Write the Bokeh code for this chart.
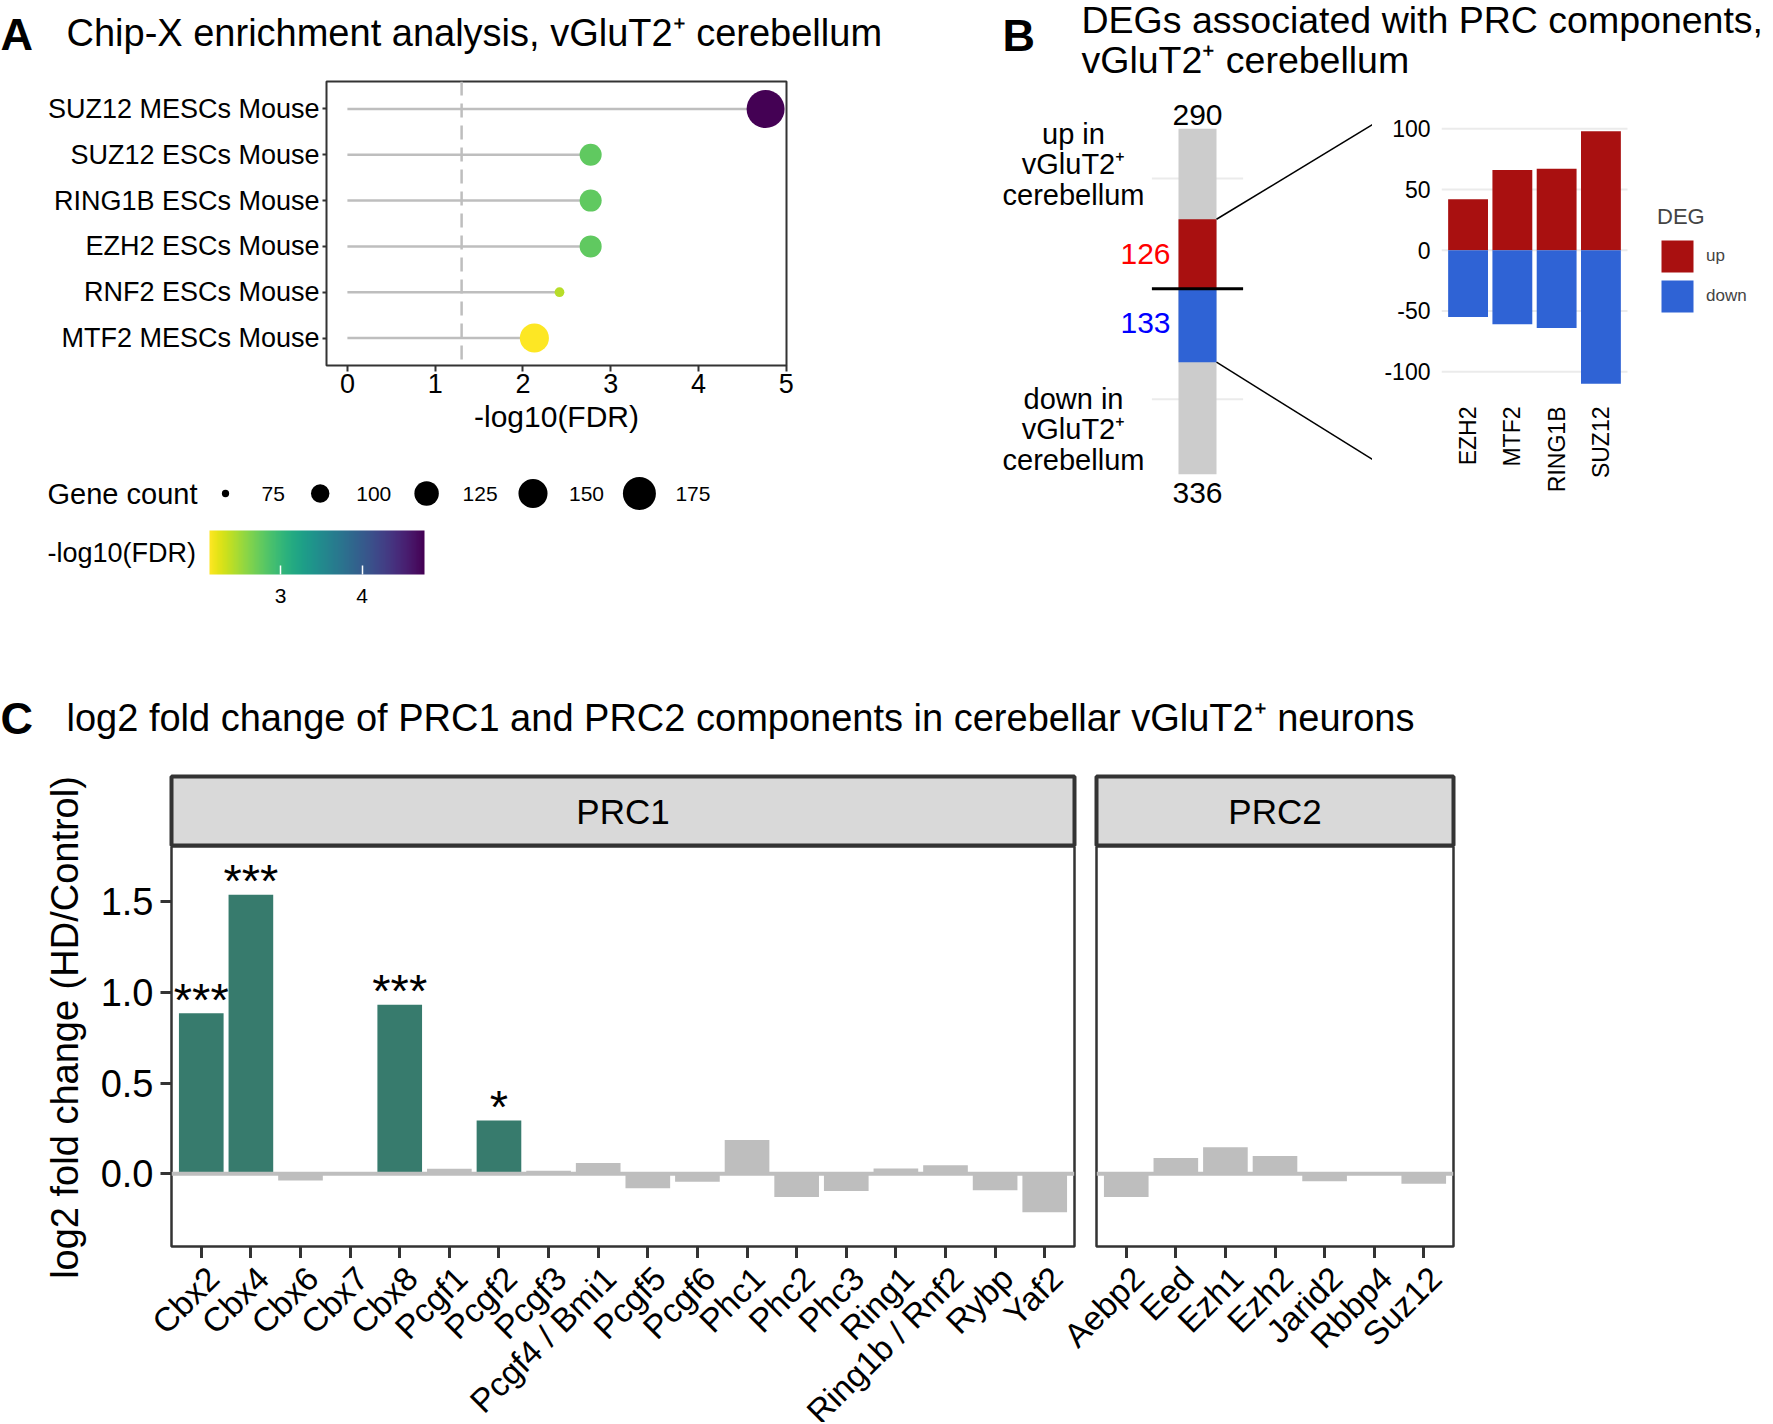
import math
from bokeh.plotting import figure
from bokeh.layouts import row, column
from bokeh.models import (Range1d, FixedTicker, Span, ColorBar, Legend, LegendItem,
                          PrintfTickFormatter, ColumnDataSource, LinearColorMapper,
                          CustomLabelingPolicy)
from bokeh.palettes import Viridis256
from bokeh.transform import transform
from bokeh.core.properties import value
from bokeh.embed import file_html
from bokeh.resources import INLINE

FONT = "Liberation Sans"

# ---------------- data: panel A (Chip-X enrichment) ----------------
chip_terms = ["SUZ12 MESCs Mouse", "SUZ12 ESCs Mouse", "RING1B ESCs Mouse",
              "EZH2 ESCs Mouse", "RNF2 ESCs Mouse", "MTF2 MESCs Mouse"]
chip_neglog10_fdr = [4.764, 2.771, 2.771, 2.771, 2.416, 2.13]
chip_gene_count = [212, 114, 114, 114, 78, 150]
fdr_cutoff = 0.05
chip_x_ticks = [0, 1, 2, 3, 4, 5]
size_breaks = [75, 100, 125, 150, 175]
fdr_ticks = [3, 4]

# ---------------- data: panel B (DEGs) ----------------
deg_up_total = 290
deg_down_total = 336
deg_up_prc = 126
deg_down_prc = 133
deg_axis_breaks = [200, -200]
prc_tf = ["EZH2", "MTF2", "RING1B", "SUZ12"]
prc_tf_up = [42, 66, 67, 98]
prc_tf_down = [55, 61, 64, 110]
deg_y_ticks = [-100, -50, 0, 50, 100]

# ---------------- data: panel C (log2 fold change) ----------------
prc1_genes = ["Cbx2", "Cbx4", "Cbx6", "Cbx7", "Cbx8", "Pcgf1", "Pcgf2", "Pcgf3",
              "Pcgf4 / Bmi1", "Pcgf5", "Pcgf6", "Phc1", "Phc2", "Phc3", "Ring1",
              "Ring1b / Rnf2", "Rybp", "Yaf2"]
prc1_lfc = [0.885, 1.537, -0.037, -0.005, 0.931, 0.028, 0.294, 0.017, 0.06, -0.079,
            -0.043, 0.186, -0.128, -0.095, 0.03, 0.047, -0.09, -0.212]
prc1_sig = ["***", "***", "", "", "***", "", "*", "", "", "", "", "", "", "", "", "", "", ""]
prc2_genes = ["Aebp2", "Eed", "Ezh1", "Ezh2", "Jarid2", "Rbbp4", "Suz12"]
prc2_lfc = [-0.128, 0.087, 0.147, 0.098, -0.04, -0.005, -0.054]
prc2_sig = ["", "", "", "", "", "", ""]
lfc_ticks = [0.0, 0.5, 1.0, 1.5]
lfc_limits = (-0.40, 1.803)

# ---------------- styling constants ----------------
SIG_COLOR = "#377B6D"
NS_COLOR = "#BEBEBE"
UP_COLOR = "#A91010"
DOWN_COLOR = "#2F63D5"
FRAME_COLOR = "#333333"
GRID_COLOR = "#EBEBEB"
SUP = "\u207a"
PAGE_W = 1770


def fig(**kw):
    base = dict(toolbar_location=None, output_backend="svg", title=None, frame_align=False)
    base.update(kw)
    return figure(**base)


def blank(x0, x1, y_top, y_bottom):
    """Canvas whose data units are page pixels (y grows downward)."""
    p = fig(width=int(x1 - x0), height=int(y_bottom - y_top), x_range=Range1d(x0, x1),
            y_range=Range1d(y_bottom, y_top), x_axis_location=None, y_axis_location=None,
            min_border=0)
    p.grid.visible = False
    p.outline_line_color = None
    return p


def txt(p, x, y, s, size, align="left", baseline="middle", color="black", style="normal", **kw):
    p.text(x=x, y=y, text=s, text_font=value(FONT), text_font_size=value(size),
           text_align=align, text_baseline=baseline, text_color=color,
           text_font_style=style, **kw)


def style_axis(ax, size, tick_out, standoff, tick_w=2):
    ax.axis_line_color = None
    ax.major_tick_in = 0
    ax.major_tick_out = tick_out
    ax.major_tick_line_color = FRAME_COLOR
    ax.major_tick_line_width = tick_w
    ax.minor_tick_line_color = None
    ax.major_label_text_font = FONT
    ax.major_label_text_font_size = size
    ax.major_label_text_color = "black"
    ax.major_label_standoff = standoff
    ax.axis_label_text_font = FONT
    ax.axis_label_text_font_style = "normal"
    ax.axis_label_text_color = "black"


# ======================= PANEL A =======================
hdrA = blank(0, 990, 0, 70)
txt(hdrA, [0], [34], ["A"], "45px", style="bold")
txt(hdrA, [66], [32], ["Chip-X enrichment analysis, vGluT2" + SUP + " cerebellum"], "38px")

n_terms = len(chip_terms)
ypos = [n_terms - i for i in range(n_terms)]
xmax = max(chip_neglog10_fdr)
figA = fig(width=990, height=378, x_range=Range1d(-0.05 * xmax, 1.05 * xmax),
           y_range=Range1d(0.4, n_terms + 0.6), min_border_left=326, min_border_right=204,
           min_border_top=11, min_border_bottom=83)
figA.grid.visible = False
figA.outline_line_color = FRAME_COLOR
figA.outline_line_width = 2


def size_of(count):
    # area-like size scale fitted to the legend
    return 3.1 + 2.96 * math.sqrt(max(count - 73, 0))


mapper = LinearColorMapper(palette=list(reversed(Viridis256)),
                           low=min(chip_neglog10_fdr), high=max(chip_neglog10_fdr))
srcA = ColumnDataSource(dict(y=ypos, fdr=chip_neglog10_fdr,
                             size=[size_of(c) for c in chip_gene_count],
                             zero=[0] * n_terms))
figA.segment(x0="zero", y0="y", x1="fdr", y1="y", source=srcA, line_color=NS_COLOR, line_width=2.5)
figA.add_layout(Span(location=-math.log10(fdr_cutoff), dimension="height", line_color=NS_COLOR,
                     line_width=2.5, line_dash="14 8"))
figA.scatter(x="fdr", y="y", size="size", source=srcA, fill_color=transform("fdr", mapper),
             line_color=None)

figA.xaxis.ticker = FixedTicker(ticks=chip_x_ticks)
figA.yaxis.ticker = FixedTicker(ticks=ypos)
figA.yaxis.major_label_overrides = {y: t for y, t in zip(ypos, chip_terms)}
style_axis(figA.xaxis[0], "27px", 6, 2)
style_axis(figA.yaxis[0], "27px", 4, 3)
figA.xaxis.axis_label = "-log10(FDR)"
figA.xaxis.axis_label_text_font_size = "30px"
figA.xaxis.axis_label_standoff = 4

# legends of panel A
legA = blank(0, 990, 448, 608)
txt(legA, [47], [493], ["Gene count"], "29px")
lx = [225.0]
for lab in [str(b) for b in size_breaks][:-1]:
    lx.append(lx[-1] + 71.3 + 11.7 * len(lab))
legA.scatter(x=lx, y=[493] * len(size_breaks), size=[size_of(b) for b in size_breaks],
             fill_color="black", line_color=None)
txt(legA, [x + 36 for x in lx], [493] * len(size_breaks), [str(b) for b in size_breaks], "21px")
txt(legA, [47], [552], ["-log10(FDR)"], "27px")
CB_LEFT, CB_TOP, CB_W, CB_H = 209, 530, 215, 44
cb = ColorBar(color_mapper=mapper, orientation="horizontal", width=CB_W, height=CB_H,
              location=(CB_LEFT, 3), ticker=FixedTicker(ticks=fdr_ticks),
              major_label_text_font=FONT, major_label_text_font_size="21px",
              major_label_text_color="black",
              major_tick_line_color="white", major_tick_line_width=1.5,
              major_tick_in=9, major_tick_out=0, minor_tick_line_color=None,
              label_standoff=14, bar_line_color=None, padding=0,
              background_fill_alpha=0, border_line_color=None, title=None)
legA.add_layout(cb, "center")
cb_px = [CB_LEFT + (t - mapper.low) / (mapper.high - mapper.low) * CB_W for t in fdr_ticks]
legA.segment(x0=cb_px, x1=cb_px, y0=[CB_TOP] * len(cb_px), y1=[CB_TOP + 9] * len(cb_px),
             line_color="white", line_width=1.5)

colA = column(hdrA, figA, legA)

# ======================= PANEL B =======================
hdrB = blank(990, PAGE_W, 0, 90)
txt(hdrB, [1002], [35], ["B"], "45px", style="bold")
txt(hdrB, [1081], [19], ["DEGs associated with PRC components,"], "37.5px")
txt(hdrB, [1081], [59], ["vGluT2" + SUP + " cerebellum"], "37.5px")

BL_X0, BL_X1, BL_Y0, BL_Y1 = 990, 1372, 90, 608
BL_BAR_CX, BL_PX_X = 1197, 76.0
BL_ZERO_Y, BL_PX_Y = 288.3, 0.552
figBL = fig(width=BL_X1 - BL_X0, height=BL_Y1 - BL_Y0,
            x_range=Range1d(1 - (BL_BAR_CX - BL_X0) / BL_PX_X, 1 + (BL_X1 - BL_BAR_CX) / BL_PX_X),
            y_range=Range1d(-(BL_Y1 - BL_ZERO_Y) / BL_PX_Y, (BL_ZERO_Y - BL_Y0) / BL_PX_Y),
            x_axis_location=None, y_axis_location=None, min_border=0)
figBL.grid.visible = False
figBL.outline_line_color = None
n_b = len(deg_axis_breaks)
figBL.segment(x0=[0.4] * n_b, x1=[1.6] * n_b, y0=deg_axis_breaks, y1=deg_axis_breaks,
              line_color=GRID_COLOR, line_width=2)
figBL.vbar(x=[1, 1], bottom=[0, -deg_down_total], top=[deg_up_total, 0], width=0.5,
           fill_color="#CCCCCC", line_color=None)
figBL.vbar(x=[1], bottom=[0], top=[deg_up_prc], width=0.5, fill_color=UP_COLOR, line_color=None)
figBL.vbar(x=[1], bottom=[-deg_down_prc], top=[0], width=0.5, fill_color=DOWN_COLOR, line_color=None)
figBL.segment(x0=[0.4], x1=[1.6], y0=[0], y1=[0], line_color="black", line_width=3)
xr_end = figBL.x_range.end
figBL.segment(x0=[1.25, 1.25], y0=[deg_up_prc, -deg_down_prc], x1=[xr_end, xr_end],
              y1=[(BL_ZERO_Y - 124) / BL_PX_Y, (BL_ZERO_Y - 459) / BL_PX_Y],
              line_color="black", line_width=1.5)
txt(figBL, [1], [deg_up_total], [str(deg_up_total)], "30px", align="center",
    baseline="alphabetic", y_offset=-14)
txt(figBL, [1], [-deg_down_total], [str(deg_down_total)], "30px", align="center",
    baseline="alphabetic", y_offset=19)
txt(figBL, [0.75], [deg_up_prc / 2], [str(deg_up_prc)], "30px", align="right",
    color="#FF0000", x_offset=-8)
txt(figBL, [0.75], [-deg_down_prc / 2], [str(deg_down_prc)], "30px", align="right",
    color="#0000FF", x_offset=-8, y_offset=-3)
figBL.text(x=[1, 1], y=deg_axis_breaks,
           text=["up in\nvGluT2" + SUP + "\ncerebellum", "down in\nvGluT2" + SUP + "\ncerebellum"],
           x_offset=-124, y_offset=[-14, 30], text_font=value(FONT), text_font_size=value("29px"),
           text_align="center", text_baseline="middle", text_line_height=0.95, text_color="black")

# right part of B: stacked up/down bars per PRC component
ylo = -max(prc_tf_down)
yhi = max(prc_tf_up)
pad = 0.05 * (yhi - ylo)
tf_x = list(range(1, len(prc_tf) + 1))
BR_FRAME_L, BR_PANEL_W = 1441, 186
BR_UNIT = BR_PANEL_W / (len(prc_tf) + 0.2)
BR_W = PAGE_W - BL_X1
figBR = fig(width=BR_W, height=518,
            x_range=Range1d(0.4, 0.4 + (PAGE_W - BR_FRAME_L) / BR_UNIT),
            y_range=Range1d(ylo - pad, yhi + pad), min_border_left=BR_FRAME_L - BL_X1,
            min_border_right=0, min_border_top=28, min_border_bottom=212)
figBR.outline_line_color = None
figBR.grid.visible = False
n_g = len(deg_y_ticks)
figBR.segment(x0=[0.4] * n_g, x1=[len(prc_tf) + 0.6] * n_g, y0=deg_y_ticks, y1=deg_y_ticks,
              line_color=GRID_COLOR, line_width=2)
r_up = figBR.vbar(x=tf_x, bottom=0, top=prc_tf_up, width=0.9, fill_color=UP_COLOR, line_color=None)
r_dn = figBR.vbar(x=tf_x, bottom=[-v for v in prc_tf_down], top=0, width=0.9,
                  fill_color=DOWN_COLOR, line_color=None)
figBR.yaxis.ticker = FixedTicker(ticks=deg_y_ticks)
figBR.yaxis.formatter = PrintfTickFormatter(format="%d")
figBR.xaxis.ticker = FixedTicker(ticks=tf_x)
figBR.xaxis.major_label_overrides = {x: t for x, t in zip(tf_x, prc_tf)}
figBR.xaxis.major_label_orientation = math.pi / 2
style_axis(figBR.xaxis[0], "23px", 0, 10)
style_axis(figBR.yaxis[0], "23px", 0, 11)
legB = Legend(items=[LegendItem(label="up", renderers=[r_up]),
                     LegendItem(label="down", renderers=[r_dn])],
              title="DEG", location=(216, 80), orientation="vertical",
              glyph_width=40, glyph_height=40, spacing=-5, padding=0, margin=0,
              label_standoff=9, title_standoff=6, border_line_color=None,
              background_fill_alpha=0, title_text_font=FONT, title_text_font_size="22px",
              title_text_font_style="normal", label_text_font=FONT, label_text_font_size="17px")
figBR.add_layout(legB, "center")

colB = column(hdrB, row(figBL, figBR))

# ======================= PANEL C =======================
hdrC = blank(0, PAGE_W, 608, 772)
txt(hdrC, [0], [718], ["C"], "45px", style="bold")
txt(hdrC, [66], [717], ["log2 fold change of PRC1 and PRC2 components in cerebellar vGluT2" + SUP + " neurons"], "38px")

YT_W = 90
ytit = blank(0, YT_W, 772, 1422)
ytit.text(x=[64], y=[1027], text=["log2 fold change (HD/Control)"], angle=math.pi / 2,
          text_font=value(FONT), text_font_size=value("38px"), text_align="center",
          text_baseline="middle", text_color="black")

UNIT = 903 / 18.2
P1_LEFT, P2_LEFT = 171, 1096
P1_W = round(len(prc1_genes) * UNIT + 0.2 * UNIT)
P2_W = round(len(prc2_genes) * UNIT + 0.2 * UNIT)
C1_X0, C1_X1, C2_X1 = YT_W, 1085, PAGE_W


def strip(x0, x1, left, width, label):
    s = fig(width=x1 - x0, height=74, x_range=Range1d(0, 1), y_range=Range1d(0, 1),
            x_axis_location=None, y_axis_location=None, min_border_left=left - x0,
            min_border_right=x1 - left - width, min_border_top=4, min_border_bottom=0)
    s.grid.visible = False
    s.background_fill_color = "#D9D9D9"
    s.outline_line_color = FRAME_COLOR
    s.outline_line_width = 4
    txt(s, [0.5], [0.5], [label], "35px", align="center")
    return s


def facet(x0, x1, left, width, genes, lfc, sig, show_y):
    n = len(genes)
    xs = list(range(1, n + 1))
    p = fig(width=x1 - x0, height=412, x_range=Range1d(0.4, n + 0.6),
            y_range=Range1d(*lfc_limits), min_border_left=left - x0,
            min_border_right=x1 - left - width, min_border_top=0, min_border_bottom=12,
            y_axis_location="left" if show_y else None)
    p.grid.visible = False
    p.outline_line_color = FRAME_COLOR
    p.outline_line_width = 2.5
    colors = [SIG_COLOR if s else NS_COLOR for s in sig]
    p.vbar(x=xs, bottom=0, top=lfc, width=0.9, fill_color=colors, line_color=None)
    p.add_layout(Span(location=0, dimension="width", line_color=NS_COLOR, line_width=4))
    sx = [x for x, s in zip(xs, sig) if s]
    sy = [v for v, s in zip(lfc, sig) if s]
    st = [s for s in sig if s]
    if st:
        txt(p, sx, sy, st, "47px", align="center", baseline="alphabetic", y_offset=-14)
    p.xaxis.ticker = FixedTicker(ticks=xs)
    style_axis(p.xaxis[0], "0px", 12, 0, tick_w=3)
    p.xaxis.major_label_policy = CustomLabelingPolicy(code="return []")
    if show_y:
        p.yaxis.ticker = FixedTicker(ticks=lfc_ticks)
        p.yaxis.formatter = PrintfTickFormatter(format="%.1f")
        style_axis(p.yaxis[0], "38px", 11, 7, tick_w=3)
    return p


strip1 = strip(C1_X0, C1_X1, P1_LEFT, P1_W, "PRC1")
strip2 = strip(C1_X1, C2_X1, P2_LEFT, P2_W, "PRC2")
panel1 = facet(C1_X0, C1_X1, P1_LEFT, P1_W, prc1_genes, prc1_lfc, prc1_sig, True)
panel2 = facet(C1_X1, C2_X1, P2_LEFT, P2_W, prc2_genes, prc2_lfc, prc2_sig, False)

labC = blank(YT_W, PAGE_W, 1258, 1422)
lab_x, lab_t = [], []
for left, genes, pw in [(P1_LEFT, prc1_genes, P1_W), (P2_LEFT, prc2_genes, P2_W)]:
    n = len(genes)
    for i, g in enumerate(genes):
        lab_x.append(left + (i + 1 - 0.4) / (n + 0.2) * pw - 1)
        lab_t.append(g)
labC.text(x=lab_x, y=[1259] * len(lab_x), text=lab_t, angle=math.pi / 4,
          text_font=value(FONT), text_font_size=value("33.5px"), text_align="right",
          text_baseline="top", text_color="black")

blockC = row(ytit, column(row(strip1, strip2), row(panel1, panel2), labC))
layout = column(row(colA, colB), hdrC, blockC)

open("out.html", "w").write(file_html(layout, INLINE, "PRC figure"))
